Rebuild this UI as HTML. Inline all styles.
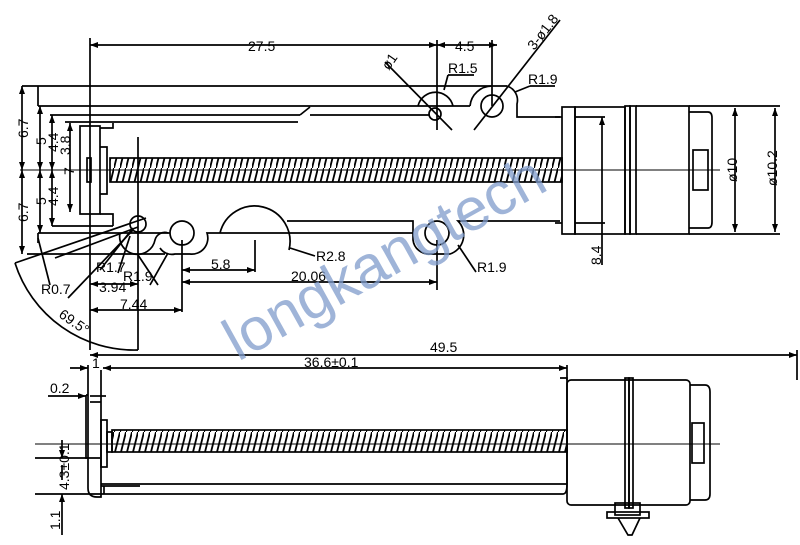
<!DOCTYPE html>
<html><head><meta charset="utf-8"><style>
html,body{margin:0;padding:0;background:#fff;width:800px;height:545px;overflow:hidden}
svg{display:block}
text{font-family:"Liberation Sans",sans-serif;font-size:14px;fill:#000}
</style></head><body>
<svg width="800" height="545" viewBox="0 0 800 545" xmlns="http://www.w3.org/2000/svg">
<defs>
<pattern id="thr" width="6" height="24" patternUnits="userSpaceOnUse">
<line x1="0" y1="24" x2="6" y2="0" stroke="#000" stroke-width="1.8"/>
</pattern>
<marker id="a" markerWidth="8" markerHeight="6" refX="8" refY="3" orient="auto-start-reverse" markerUnits="userSpaceOnUse"><path d="M0,0L8,3L0,6z" fill="#000"/></marker>
</defs>
<g stroke="#000" stroke-width="1.7" fill="none">
<line x1="90" y1="45" x2="437" y2="45" marker-start="url(#a)" marker-end="url(#a)"/>
<line x1="437" y1="45" x2="497" y2="45" marker-start="url(#a)" marker-end="url(#a)"/>
<line x1="90" y1="38" x2="90" y2="350"/>
<line x1="437" y1="40" x2="437" y2="130"/>
<line x1="492" y1="40" x2="492" y2="106"/>
<line x1="385" y1="62" x2="452" y2="130"/>
<line x1="560" y1="20" x2="474" y2="130"/>
<line x1="444" y1="90" x2="448" y2="75"/><line x1="448" y1="75" x2="474" y2="75"/>
<line x1="515" y1="92" x2="530" y2="86"/><line x1="530" y1="86" x2="555" y2="86"/>
<line x1="22" y1="86" x2="507" y2="86"/>
<path d="M507,86 A15,15 0 0 1 517,104 L517,117 L560,117"/>
<path d="M470,106 A22,22 0 0 1 492,86"/>
<line x1="38" y1="106" x2="470" y2="106"/>
<line x1="38" y1="86" x2="38" y2="106"/>
<line x1="50" y1="115" x2="300" y2="115"/><line x1="300" y1="115" x2="310" y2="107"/>
<line x1="310" y1="115" x2="430" y2="115"/>
<line x1="65" y1="122" x2="298" y2="122"/>
<path d="M418,106 A18,18 0 0 1 453,106"/>
<circle cx="435" cy="114" r="6"/>
<circle cx="492" cy="106" r="11"/>
<path d="M100,128 L113,128 L113,123 L113,128 M80,126 L100,126 L100,214 L80,214 Z"/>
<path d="M100,147 L107,147 L107,194 L100,194"/>
<path d="M100,214 L113,214 L113,226"/>
<line x1="52" y1="226" x2="113" y2="226"/>
<rect x="87" y="158" width="4" height="24"/>
<rect x="110" y="158" width="452" height="24" fill="url(#thr)"/>
<line x1="20" y1="170" x2="720" y2="170" stroke-width="1"/>
<line x1="38" y1="233" x2="170" y2="233"/>
<line x1="38" y1="233" x2="38" y2="243"/>
<line x1="27" y1="254" x2="165" y2="254"/>
<path d="M120,233 A16,16 0 0 0 155,240 A10,10 0 0 1 168,233"/>
<path d="M160,248 A14,14 0 0 0 175,254 L190,254 A16,16 0 0 0 207,233 L220,233"/>
<circle cx="182" cy="233" r="12"/>
<path d="M220,233 A35,35 0 0 1 289,250"/>
<line x1="220" y1="233" x2="413" y2="233"/>
<path d="M287,221 L413,221 L413,240 A16,16 0 0 0 430,254 L450,254 A20,20 0 0 0 458,221 L560,221"/>
<circle cx="437" cy="233" r="12"/>
<circle cx="138" cy="224" r="8"/>
<line x1="138" y1="137" x2="138" y2="350"/>
<line x1="15" y1="263" x2="146" y2="218"/>
<line x1="55" y1="258" x2="138" y2="227"/>
<line x1="38" y1="238" x2="50" y2="285"/>
<line x1="68" y1="298" x2="133" y2="230"/>
<line x1="100" y1="270" x2="133" y2="228"/>
<line x1="118" y1="273" x2="130" y2="236"/>
<path d="M15,263 A125,125 0 0 0 138,350"/>
<line x1="138" y1="255" x2="158" y2="285"/>
<line x1="150" y1="285" x2="168" y2="253"/>
<line x1="90" y1="284" x2="138" y2="284" marker-start="url(#a)" marker-end="url(#a)"/>
<line x1="90" y1="310" x2="182" y2="310" marker-start="url(#a)" marker-end="url(#a)"/>
<line x1="182" y1="240" x2="182" y2="312"/>
<line x1="182" y1="270" x2="255" y2="270" marker-start="url(#a)" marker-end="url(#a)"/>
<line x1="255" y1="240" x2="255" y2="272"/>
<line x1="182" y1="282" x2="437" y2="282" marker-start="url(#a)" marker-end="url(#a)"/>
<line x1="437" y1="240" x2="437" y2="290"/>
<line x1="290" y1="248" x2="315" y2="256"/>
<line x1="458" y1="245" x2="476" y2="272"/>
<line x1="22" y1="86" x2="22" y2="170" marker-start="url(#a)" marker-end="url(#a)"/>
<line x1="22" y1="170" x2="22" y2="254" marker-start="url(#a)" marker-end="url(#a)"/>
<line x1="40" y1="106" x2="40" y2="170" marker-start="url(#a)" marker-end="url(#a)"/>
<line x1="40" y1="170" x2="40" y2="233" marker-start="url(#a)" marker-end="url(#a)"/>
<line x1="52" y1="115" x2="52" y2="170" marker-start="url(#a)" marker-end="url(#a)"/>
<line x1="52" y1="170" x2="52" y2="226" marker-start="url(#a)" marker-end="url(#a)"/>
<line x1="70" y1="123" x2="70" y2="212" marker-start="url(#a)" marker-end="url(#a)"/>
<rect x="562" y="107" width="13" height="127"/>
<rect x="575" y="107" width="50" height="127"/>
<rect x="625" y="106" width="5" height="128"/>
<rect x="630" y="106" width="6" height="128"/>
<path d="M636,106 L689,106 L689,234 L636,234"/>
<path d="M689,112 L708,112 Q712,112 712,118 L712,222 Q712,228 708,228 L689,228"/>
<rect x="693" y="150" width="15" height="40"/>
<line x1="555" y1="117" x2="562" y2="117"/><line x1="555" y1="223" x2="562" y2="223"/>
<line x1="575" y1="117" x2="605" y2="117"/><line x1="575" y1="223" x2="605" y2="223"/>
<line x1="602" y1="117" x2="602" y2="265" marker-start="url(#a)"/>
<line x1="689" y1="106" x2="780" y2="106"/><line x1="689" y1="234" x2="780" y2="234"/>
<line x1="735" y1="108" x2="735" y2="232" marker-start="url(#a)" marker-end="url(#a)"/>
<line x1="775" y1="108" x2="775" y2="232" marker-start="url(#a)" marker-end="url(#a)"/>
<line x1="90" y1="355" x2="797" y2="355" marker-start="url(#a)" marker-end="url(#a)"/>
<line x1="797" y1="350" x2="797" y2="380"/>
<line x1="70" y1="368" x2="88" y2="368" marker-end="url(#a)"/>
<line x1="103" y1="368" x2="567" y2="368" marker-start="url(#a)" marker-end="url(#a)"/>
<line x1="567" y1="365" x2="567" y2="380"/>
<line x1="48" y1="396" x2="86" y2="396" marker-end="url(#a)"/>
<line x1="90" y1="396" x2="106" y2="396"/>
<path d="M88,365 L88,488 Q88,497 97,497 L101,497 L101,370"/>
<path d="M86,395 L88,395 M86,395 L86,458 L88,458"/>
<line x1="90" y1="402" x2="101" y2="402"/>
<rect x="101" y="420" width="6" height="47"/>
<rect x="107" y="432" width="5" height="20"/>
<rect x="112" y="430" width="455" height="22" fill="url(#thr)"/>
<line x1="35" y1="444" x2="720" y2="444" stroke-width="1"/>
<line x1="101" y1="484" x2="567" y2="484"/>
<line x1="101" y1="486" x2="140" y2="486"/>
<line x1="35" y1="494" x2="563" y2="494"/>
<path d="M563,494 Q567,494 567,484 L567,378 L560,378"/>
<line x1="104" y1="486" x2="104" y2="494"/>
<rect x="567" y="380" width="123" height="125" rx="4"/>
<rect x="625" y="378" width="4" height="130"/>
<rect x="629" y="378" width="4" height="130"/>
<path d="M690,385 L705,385 Q710,385 710,392 L710,494 Q710,500 705,500 L690,500"/>
<rect x="692" y="423" width="12" height="40"/>
<rect x="615" y="503" width="25" height="12"/>
<rect x="607" y="512" width="42" height="6"/>
<path d="M618,518 L628,535 L632,535 L640,518"/>
<line x1="35" y1="458" x2="100" y2="458"/>
<line x1="62" y1="440" x2="62" y2="458" marker-end="url(#a)"/>
<line x1="62" y1="494" x2="62" y2="535" marker-start="url(#a)"/>
<line x1="62" y1="465" x2="62" y2="480"/>
</g>
<g>
<text x="248" y="51">27.5</text>
<text x="455" y="51">4.5</text>
<text x="520" y="48" transform="rotate(-52 530 35)">3-ø1.8</text>
<text x="382" y="66" transform="rotate(-55 390 62)">ø1</text>
<text x="448" y="73">R1.5</text>
<text x="528" y="84">R1.9</text>
<text x="316" y="261">R2.8</text>
<text x="477" y="272">R1.9</text>
<text x="96" y="272">R1.7</text>
<text x="123" y="281">R1.9</text>
<text x="41" y="294">R0.7</text>
<text x="99" y="292">3.94</text>
<text x="120" y="309">7.44</text>
<text x="58" y="324" transform="rotate(35 70 320)">69.5°</text>
<text x="211" y="269">5.8</text>
<text x="291" y="281">20.06</text>
<text x="28" y="138" transform="rotate(-90 28 138)">6.7</text>
<text x="28" y="222" transform="rotate(-90 28 222)">6.7</text>
<text x="46" y="145" transform="rotate(-90 46 145)">5</text>
<text x="46" y="205" transform="rotate(-90 46 205)">5</text>
<text x="58" y="152" transform="rotate(-90 58 152)">4.4</text>
<text x="58" y="206" transform="rotate(-90 58 206)">4.4</text>
<text x="70" y="155" transform="rotate(-90 70 155)">3.8</text>
<text x="74" y="175" transform="rotate(-90 74 175)">7</text>
<text x="601" y="265" transform="rotate(-90 601 265)">8.4</text>
<text x="737" y="182" transform="rotate(-90 737 182)">ø10</text>
<text x="777" y="186" transform="rotate(-90 777 186)">ø10.2</text>
<text x="430" y="352">49.5</text>
<text x="92" y="368">1</text>
<text x="304" y="367">36.6±0.1</text>
<text x="50" y="393">0.2</text>
<text x="69" y="490" transform="rotate(-90 69 490)">4.3±0.1</text>
<text x="60" y="530" transform="rotate(-90 60 530)">1.1</text>
</g>
<text x="238" y="362" transform="rotate(-29 238 362)" style="font-size:60px;fill:#7f9ccc;opacity:0.75;font-family:'Liberation Sans',sans-serif">longkangtech</text>
</svg>
</body></html>
